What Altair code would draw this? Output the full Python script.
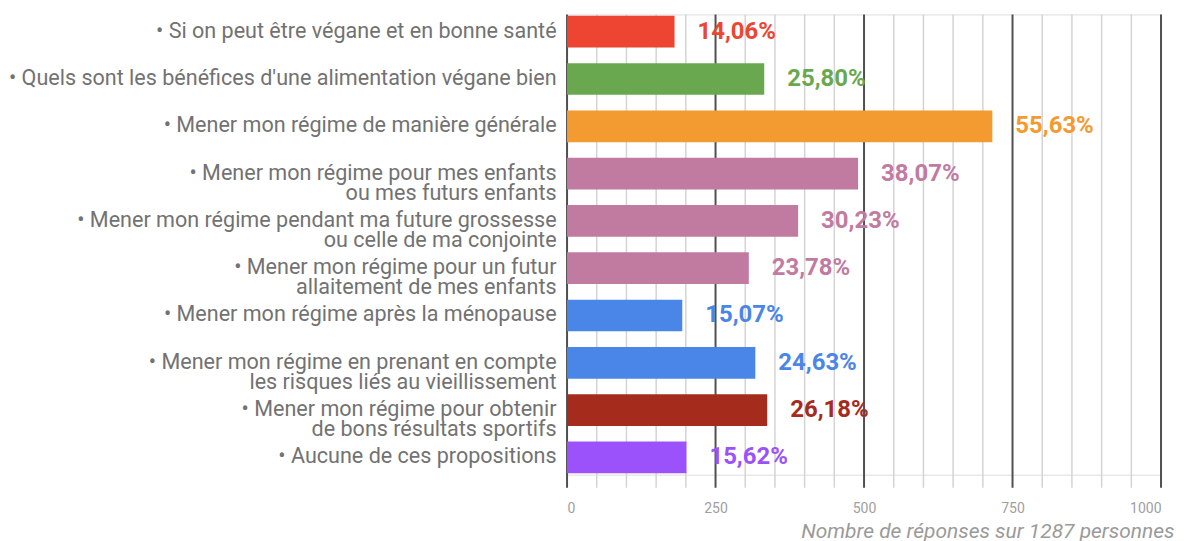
import altair as alt
import pandas as pd

categories = [
    "• Si on peut être végane et en bonne santé",
    "• Quels sont les bénéfices d'une alimentation végane bien",
    "• Mener mon régime de manière générale",
    "• Mener mon régime pour mes enfants|ou mes futurs enfants",
    "• Mener mon régime pendant ma future grossesse|ou celle de ma conjointe",
    "• Mener mon régime pour un futur|allaitement de mes enfants",
    "• Mener mon régime après la ménopause",
    "• Mener mon régime en prenant en compte|les risques liés au vieillissement",
    "• Mener mon régime pour obtenir|de bons résultats sportifs",
    "• Aucune de ces propositions",
]
counts = [181, 332, 716, 490, 389, 306, 194, 317, 337, 201]
pct_labels = ["14,06%", "25,80%", "55,63%", "38,07%", "30,23%",
              "23,78%", "15,07%", "24,63%", "26,18%", "15,62%"]
colors = ["#ee4533", "#6aa84f", "#f39a31", "#c27ba0", "#c27ba0",
          "#c27ba0", "#4a86e8", "#4a86e8", "#a52b1c", "#9b52fb"]

major_ticks = [0, 250, 500, 750, 1000]
minor_ticks = [50, 100, 150, 200, 300, 350, 400, 450, 550, 600, 650, 700,
               800, 850, 900, 950]

W, H = 595, 461

df = pd.DataFrame({"cat": categories, "n": counts, "pct": pct_labels, "color": colors})
minor_df = pd.DataFrame({"v": minor_ticks})
major_df = pd.DataFrame({"v": major_ticks})

xscale = alt.Scale(domain=[0, 1000], nice=False, zero=True)

x_axis = alt.Axis(
    values=major_ticks, grid=False, ticks=False, domain=False, format="d",
    labelPadding=27, labelColor="#a0a0a0", labelFontSize=14, labelFont="Roboto",
    title="Nombre de réponses sur 1287 personnes",
    titleFont="Roboto", titleFontStyle="italic", titleFontWeight="normal",
    titleFontSize=21, titleColor="#9a9a9a",
    titleAnchor="end", titleAlign="right", titleX=W + 13, titleY=57,
    titleBaseline="middle",
)

minor_rules = alt.Chart(minor_df).mark_rule(color="#d4d4d4", strokeWidth=1.5).encode(
    x=alt.X("v:Q", scale=xscale, axis=x_axis),
    y=alt.value(0), y2=alt.value(H + 13),
)
major_rules = alt.Chart(major_df).mark_rule(color="#505050", strokeWidth=2).encode(
    x=alt.X("v:Q", scale=xscale),
    y=alt.value(0), y2=alt.value(H + 13),
)

y_enc = alt.Y(
    "cat:N", sort=None,
    scale=alt.Scale(paddingInner=0.33, paddingOuter=0.03),
    axis=alt.Axis(
        title=None, ticks=False, domain=False, grid=False,
        labelPadding=11, labelFontSize=21.6, labelFont="Roboto",
        labelColor="#727272", labelLimit=0, labelLineHeight=20,
        labelExpr="split(datum.label, '|')",
    ),
)

bars = alt.Chart(df).mark_bar().encode(
    x=alt.X("n:Q", scale=xscale),
    y=y_enc,
    color=alt.Color("color:N", scale=None),
)

texts = alt.Chart(df).mark_text(
    align="left", baseline="middle", dx=23, fontSize=24,
    fontWeight="bold", font="Roboto",
).encode(
    x=alt.X("n:Q", scale=xscale),
    y=alt.Y("cat:N", sort=None),
    text="pct:N",
    color=alt.Color("color:N", scale=None),
)

chart = alt.layer(minor_rules, major_rules, bars, texts).properties(
    width=W, height=H,
    autosize=alt.AutoSizeParams(type="none"),
    padding={"left": 560, "top": 6, "right": 15, "bottom": 66},
).configure_view(stroke=None).configure(background="white")

chart.save("out.html", embed_options={"renderer": "svg", "actions": False})
